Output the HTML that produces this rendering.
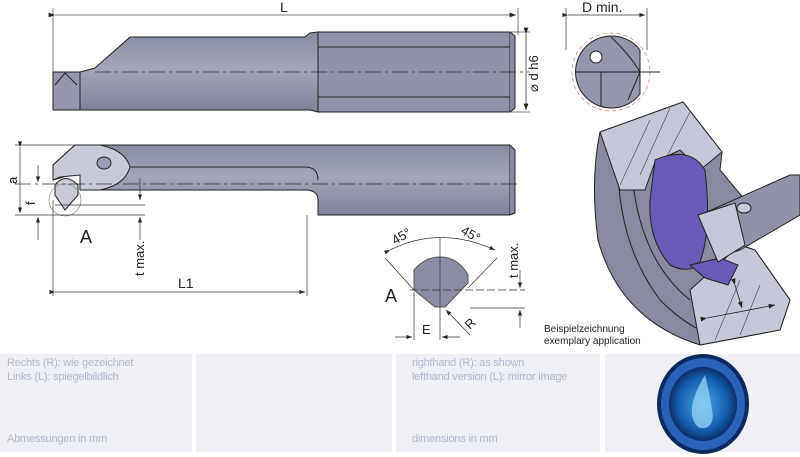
<!DOCTYPE html>
<html><head><meta charset="utf-8"><style>
html,body{margin:0;padding:0;background:#fff;}
body{width:800px;height:457px;overflow:hidden;position:relative;font-family:"Liberation Sans",sans-serif;}
.cell{position:absolute;top:354px;height:98px;background:#eef0f5;}
.t{position:absolute;color:#b0b8cc;font-size:11px;line-height:14px;font-family:"Liberation Sans",sans-serif;letter-spacing:-0.2px;}
svg{position:absolute;left:0;top:0;}
</style></head><body>
<div class="cell" style="left:0;width:192px"></div>
<div class="cell" style="left:196px;width:196px"></div>
<div class="cell" style="left:396px;width:204px"></div>
<div class="cell" style="left:605px;width:195px"></div>
<div class="t" style="left:7px;top:356px">Rechts (R): wie gezeichnet<br>Links (L): spiegelbildlich</div>
<div class="t" style="left:7px;top:432px">Abmessungen in mm</div>
<div class="t" style="left:412px;top:356px">righthand (R): as shown<br>lefthand version (L): mirror image</div>
<div class="t" style="left:412px;top:432px">dimensions in mm</div>
<svg width="800" height="457" viewBox="0 0 800 457" font-family="Liberation Sans, sans-serif">
<defs>
<linearGradient id="g1" x1="0" y1="0" x2="0" y2="1"><stop offset="0" stop-color="#868a9e"/><stop offset="0.45" stop-color="#a3a6b8"/><stop offset="1" stop-color="#7f8297"/></linearGradient>
<radialGradient id="lg" cx="0.5" cy="0.5" r="0.5"><stop offset="0" stop-color="#4aa8e8"/><stop offset="0.7" stop-color="#1560b0"/><stop offset="1" stop-color="#0a2f6a"/></radialGradient>
<marker id="ar" markerWidth="8" markerHeight="6" refX="8" refY="3" orient="auto"><path d="M0,0 L8,3 L0,6z" fill="#222"/></marker>
</defs>
<!-- TOP VIEW -->
<g stroke="#555" stroke-width="0.8" fill="none">
<line x1="53" y1="8" x2="53" y2="72"/><line x1="518" y1="8" x2="518" y2="35"/>
<line x1="55" y1="15" x2="516" y2="15" marker-end="url(#ar)" marker-start="url(#ar)"/>
<line x1="510" y1="32" x2="530" y2="32"/><line x1="510" y1="112" x2="530" y2="112"/>
</g>
<text x="280" y="12" font-size="14" fill="#222">L</text>
<path d="M80,72 L95,68 L130,37 L305,37 L310,33 L318,32 L318,112 L310,110 L305,110 L80,110 Z" fill="url(#g1)" stroke="#222" stroke-width="1"/>
<rect x="318" y="32" width="192" height="80" fill="#9093a7" stroke="#222"/>
<path d="M510,32 L515,36 L515,108 L510,112" fill="#878a9e" stroke="#222"/>
<line x1="318" y1="47" x2="510" y2="47" stroke="#222"/><line x1="318" y1="97" x2="510" y2="97" stroke="#222"/>
<rect x="53" y="72" width="27" height="38" fill="#9497ab" stroke="#222"/>
<path d="M55,85 L65,73 L77,85" fill="none" stroke="#222"/>
<line x1="95" y1="72" x2="530" y2="72" stroke="#333" stroke-width="0.7" stroke-dasharray="16,4,3,4"/>
<line x1="526" y1="34" x2="526" y2="110" stroke="#333" stroke-width="0.8" marker-start="url(#ar)" marker-end="url(#ar)"/>
<text transform="translate(538,92) rotate(-90)" font-size="13" fill="#222">⌀ d h6</text>
<!-- SIDE VIEW -->
<path d="M75,145 L510,145 L510,215 L318,215 L318,200 Q318,190 305,190 L80,190 L80,175 L70,175 L53,180 L53,165 Z" fill="url(#g1)" stroke="#222"/>
<path d="M510,145 L515,150 L515,213 L510,215" fill="#878a9e" stroke="#222"/>
<path d="M130,167 L305,167 Q318,167 318,180" fill="none" stroke="#222"/>
<path d="M75,145 L100,145 Q125,150 130,167 Q125,185 100,190 L80,190 L80,175 L60,177 L53,180 L53,165 Z" fill="#c8cad8" stroke="#222"/>
<ellipse cx="104" cy="163" rx="7" ry="6" fill="#9a9db0" stroke="#222"/>
<path d="M55,185 Q65,172 78,185 L78,195 L65,210 L55,195 Z" fill="#c8cad8" stroke="#222"/>
<circle cx="65" cy="200" r="16" fill="none" stroke="#777" stroke-width="0.6"/>
<g stroke="#333" stroke-width="0.7" fill="none">
<line x1="15" y1="184" x2="520" y2="184" stroke-dasharray="16,4,3,4"/>
<line x1="15" y1="145" x2="75" y2="145"/><line x1="15" y1="215" x2="145" y2="215"/>
<line x1="20" y1="147" x2="20" y2="213" marker-start="url(#ar)" marker-end="url(#ar)"/>
<line x1="38" y1="165" x2="38" y2="182" marker-end="url(#ar)"/><line x1="38" y1="240" x2="38" y2="217" marker-end="url(#ar)"/>
<line x1="140" y1="178" x2="140" y2="200" marker-end="url(#ar)"/><line x1="140" y1="240" x2="140" y2="217" marker-end="url(#ar)"/>
<line x1="55" y1="205" x2="145" y2="205"/>
<line x1="53" y1="200" x2="53" y2="296"/><line x1="307" y1="215" x2="307" y2="296"/>
<line x1="55" y1="292" x2="305" y2="292" marker-start="url(#ar)" marker-end="url(#ar)"/>
</g>
<text transform="translate(17,184) rotate(-90)" font-size="13" fill="#222">a</text>
<text transform="translate(35,205) rotate(-90)" font-size="13" fill="#222">f</text>
<text transform="translate(144,276) rotate(-90)" font-size="13" fill="#222">t max.</text>
<text x="178" y="288" font-size="14" fill="#222">L1</text>
<text x="80" y="243" font-size="18" fill="#222">A</text>
<!-- DETAIL A -->
<path d="M414,270 Q425,257 440,257 Q458,257 468,275 L468,283 L445,307 L435,307 L414,290 Z" fill="#8a8da1" stroke="#555"/>
<g stroke="#333" stroke-width="0.7" fill="none">
<line x1="440" y1="238" x2="440" y2="340"/><line x1="410" y1="290" x2="525" y2="290" stroke-dasharray="8,3"/>
<line x1="385" y1="258" x2="414" y2="290"/><line x1="497" y1="258" x2="468" y2="288"/>
<path d="M390,250 Q440,225 495,250" marker-start="url(#ar)" marker-end="url(#ar)"/>
<line x1="470" y1="308" x2="525" y2="308"/>
<line x1="520" y1="270" x2="520" y2="288" marker-end="url(#ar)"/><line x1="520" y1="328" x2="520" y2="310" marker-end="url(#ar)"/>
<line x1="414" y1="292" x2="414" y2="340"/>
<line x1="470" y1="335" x2="446" y2="310" marker-end="url(#ar)"/>
<line x1="395" y1="337" x2="412" y2="337" marker-end="url(#ar)"/><line x1="460" y1="337" x2="442" y2="337" marker-end="url(#ar)"/>
</g>
<text transform="translate(395,245) rotate(-30)" font-size="13" fill="#222">45°</text>
<text transform="translate(460,233) rotate(30)" font-size="13" fill="#222">45°</text>
<text transform="translate(518,278) rotate(-90)" font-size="13" fill="#222">t max.</text>
<text x="385" y="302" font-size="18" fill="#222">A</text>
<text x="422" y="334" font-size="13" fill="#222">E</text>
<text transform="translate(470,330) rotate(-45)" font-size="13" fill="#222">R</text>
<!-- END VIEW -->
<g stroke="#333" stroke-width="0.7" fill="none">
<line x1="566" y1="8" x2="566" y2="50"/><line x1="647" y1="8" x2="647" y2="50"/>
<line x1="568" y1="15" x2="645" y2="15" marker-start="url(#ar)" marker-end="url(#ar)"/>
</g>
<text x="582" y="12" font-size="14" fill="#222">D min.</text>
<circle cx="611" cy="72" r="39" fill="none" stroke="#d06060" stroke-width="0.6" stroke-dasharray="4,3"/>
<path d="M640,50 A36,36 0 1 0 640,94 Z" fill="#9497ab" stroke="#222"/>
<path d="M611,37 Q630,55 640,72 L628,100" fill="none" stroke="#222"/>
<line x1="575" y1="72" x2="660" y2="72" stroke="#222"/><line x1="601" y1="72" x2="601" y2="106" stroke="#222"/>
<circle cx="596" cy="57" r="6" fill="#fff" stroke="#222"/>
<!-- 3D APPLICATION -->
<path d="M600,132 L683,102 L722,152 L720,170 L745,200 L740,245 L755,250 L790,300 L780,330 L700,345 Q620,320 598,240 Q590,180 600,132 Z" fill="#888ba0" stroke="#222"/>
<path d="M618,150 Q615,240 660,300 Q680,320 700,330" fill="none" stroke="#222"/>
<path d="M632,175 Q640,260 690,300" fill="none" stroke="#222"/>
<path d="M600,132 L683,102 L722,152 L700,170 L680,150 L655,162 L645,190 L620,190 Z" fill="#c5c8d8" stroke="#222"/>
<path d="M690,290 L740,245 L755,250 L790,300 L780,330 L700,345 Z" fill="#c5c8d8" stroke="#222"/>
<g stroke="#444" stroke-width="0.6"><line x1="620" y1="185" x2="650" y2="120"/><line x1="640" y1="175" x2="670" y2="108"/><line x1="665" y1="160" x2="690" y2="112"/><line x1="715" y1="340" x2="740" y2="280"/><line x1="740" y1="335" x2="760" y2="285"/></g>
<path d="M655,160 Q690,145 705,170 Q712,230 700,262 Q690,275 670,265 Q648,240 650,200 Z" fill="#6a5ab8" stroke="#222"/>
<path d="M690,265 L705,278 L728,285 L738,265 L720,258 Z" fill="#6a5ab8" stroke="#222"/>
<path d="M700,215 L790,175 L800,175 L800,215 L740,250 L725,255 Z" fill="#9093a7" stroke="#222"/>
<path d="M698,215 L735,203 L745,245 L718,262 Z" fill="#c5c8d8" stroke="#222"/>
<ellipse cx="744" cy="208" rx="7" ry="5" fill="#c8cbda" stroke="#222"/>
<line x1="735" y1="285" x2="742" y2="308" stroke="#222" stroke-width="0.8" marker-start="url(#ar)" marker-end="url(#ar)"/>
<line x1="707" y1="318" x2="775" y2="305" stroke="#222" stroke-width="0.8" marker-start="url(#ar)" marker-end="url(#ar)"/>
<text x="544" y="332" font-size="10" fill="#222">Beispielzeichnung</text>
<text x="544" y="344" font-size="10" fill="#222">exemplary application</text>
<!-- LOGO -->
<ellipse cx="703" cy="404" rx="46" ry="50" fill="#0c2a60"/>
<ellipse cx="703" cy="404" rx="42" ry="46" fill="#2a62b8"/>
<ellipse cx="703" cy="404" rx="34" ry="37" fill="url(#lg)"/>
<path d="M705,375 Q690,400 692,415 Q695,430 705,428 Q715,425 712,410 Q710,395 705,375 Z" fill="#8fd0f5" opacity="0.8"/>
</svg>
</body></html>
